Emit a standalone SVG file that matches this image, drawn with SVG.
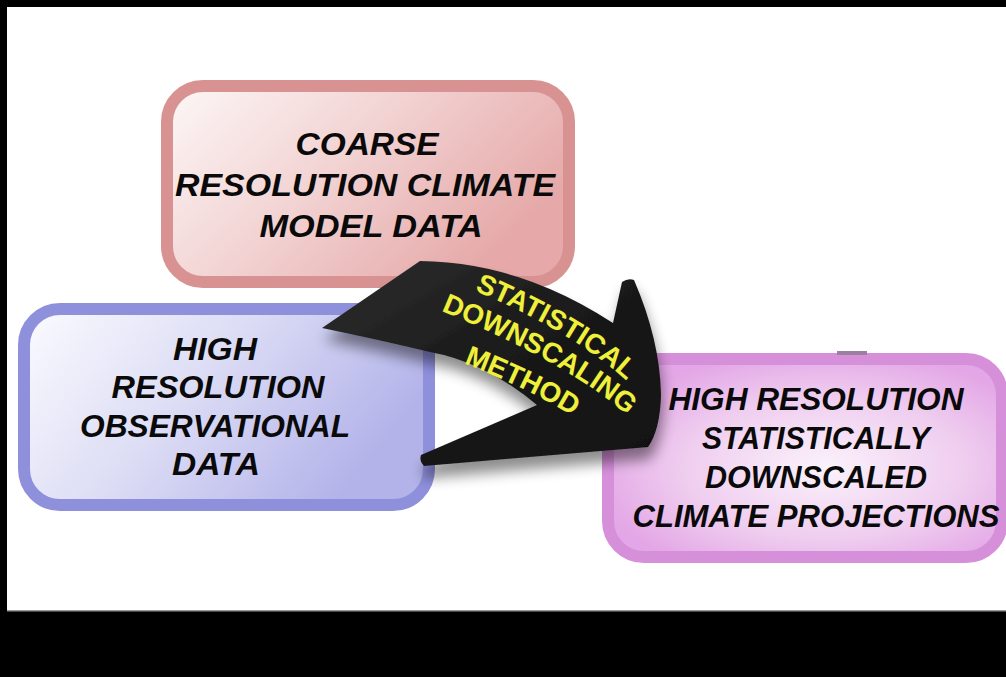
<svg xmlns="http://www.w3.org/2000/svg" xmlns:xlink="http://www.w3.org/1999/xlink" width="1006" height="677" viewBox="0 0 1006 677">
<style>
.lbl{font-family:"Liberation Sans",Arial,sans-serif;font-weight:bold;font-style:italic;font-size:31px;fill:#0a0a0a;text-anchor:middle}
.arr{font-family:"Liberation Sans",Arial,sans-serif;font-weight:bold;font-size:28px;fill:#eef03a;text-anchor:middle}
.box{stroke-width:12}
</style>
<defs>
<linearGradient id="gPink" x1="0" y1="0" x2="1" y2="0.5">
<stop offset="0" stop-color="#fdf7f7"/><stop offset="0.5" stop-color="#f2d2d2"/><stop offset="1" stop-color="#e6a8a8"/>
</linearGradient>
<linearGradient id="gBlue" x1="0" y1="0" x2="1" y2="0.4">
<stop offset="0" stop-color="#fbfbff"/><stop offset="0.5" stop-color="#dcdcf5"/><stop offset="1" stop-color="#b3b3ea"/>
</linearGradient>
<radialGradient id="gMag" cx="0.55" cy="0.55" r="0.6">
<stop offset="0" stop-color="#fbf2fb"/><stop offset="0.6" stop-color="#efcdef"/><stop offset="1" stop-color="#e3a6e6"/>
</radialGradient>
<linearGradient id="gArr" x1="0" y1="0" x2="1" y2="1">
<stop offset="0" stop-color="#2e2e2e"/><stop offset="0.5" stop-color="#1a1a1a"/><stop offset="1" stop-color="#101010"/>
</linearGradient>
<filter id="sh" x="-20%" y="-20%" width="140%" height="160%">
<feGaussianBlur in="SourceAlpha" stdDeviation="7"/>
<feOffset dx="2" dy="12" result="b"/>
<feComponentTransfer><feFuncA type="linear" slope="0.45"/></feComponentTransfer>
<feMerge><feMergeNode/><feMergeNode in="SourceGraphic"/></feMerge>
</filter>
<path id="p1" d="M466,287 Q578,333 633,387"/>
<path id="p2" d="M432,307 Q579,367 634,422"/>
<path id="p3" d="M460,362 Q526,387 576,418"/>
</defs>
<rect width="1006" height="677" fill="#ffffff"/>
<g id="frame">
<rect x="0" y="0" width="1006" height="7" fill="#000"/>
<rect x="0" y="0" width="7" height="677" fill="#000"/>
<rect x="0" y="611" width="1006" height="66" fill="#000"/>
<rect x="7" y="610" width="999" height="1.5" fill="#999"/>
</g>
<g id="node-coarse">
<rect class="box" x="167" y="86" width="402" height="196" rx="36" fill="url(#gPink)" stroke="#d89292"/>
<text class="lbl" x="367" y="155" textLength="143" lengthAdjust="spacingAndGlyphs">COARSE</text>
<text class="lbl" x="365" y="196" textLength="380" lengthAdjust="spacingAndGlyphs">RESOLUTION CLIMATE</text>
<text class="lbl" x="371" y="237" textLength="223" lengthAdjust="spacingAndGlyphs">MODEL DATA</text>
</g>
<g id="node-observational">
<rect class="box" x="24" y="309" width="405" height="196" rx="36" fill="url(#gBlue)" stroke="#8f90dc"/>
<text class="lbl" x="215" y="360" textLength="84" lengthAdjust="spacingAndGlyphs">HIGH</text>
<text class="lbl" x="218" y="398" textLength="213" lengthAdjust="spacingAndGlyphs">RESOLUTION</text>
<text class="lbl" x="215" y="437" textLength="270" lengthAdjust="spacingAndGlyphs">OBSERVATIONAL</text>
<text class="lbl" x="216" y="475" textLength="88" lengthAdjust="spacingAndGlyphs">DATA</text>
</g>
<g id="node-projections">
<rect class="box" x="608" y="359" width="394" height="198" rx="36" fill="url(#gMag)" stroke="#d690da"/>
<rect x="837" y="351" width="30" height="4" fill="#9c7e9e"/>
<text class="lbl" x="816" y="410" textLength="295" lengthAdjust="spacingAndGlyphs">HIGH RESOLUTION</text>
<text class="lbl" x="816" y="449" textLength="228" lengthAdjust="spacingAndGlyphs">STATISTICALLY</text>
<text class="lbl" x="816" y="488" textLength="222" lengthAdjust="spacingAndGlyphs">DOWNSCALED</text>
<text class="lbl" x="816" y="527" textLength="367" lengthAdjust="spacingAndGlyphs">CLIMATE PROJECTIONS</text>
</g>
<g id="connectors">
<g id="arrow-downscaling">
<path d="M322,328 L420,261 Q520,262 613,323 L622,282 Q628,278 634,280 Q660,340 661,395 Q660,430 648,447 L424,466 Q419,461 421,455 L537,405 Q485,362 430,352 Q380,340 322,328 Z" fill="url(#gArr)" filter="url(#sh)"/>
<text class="arr"><textPath href="#p1" xlink:href="#p1" startOffset="50%">STATISTICAL</textPath></text>
<text class="arr"><textPath href="#p2" xlink:href="#p2" startOffset="50%">DOWNSCALING</textPath></text>
<text class="arr"><textPath href="#p3" xlink:href="#p3" startOffset="50%">METHOD</textPath></text>
</g>
</g>
</svg>
